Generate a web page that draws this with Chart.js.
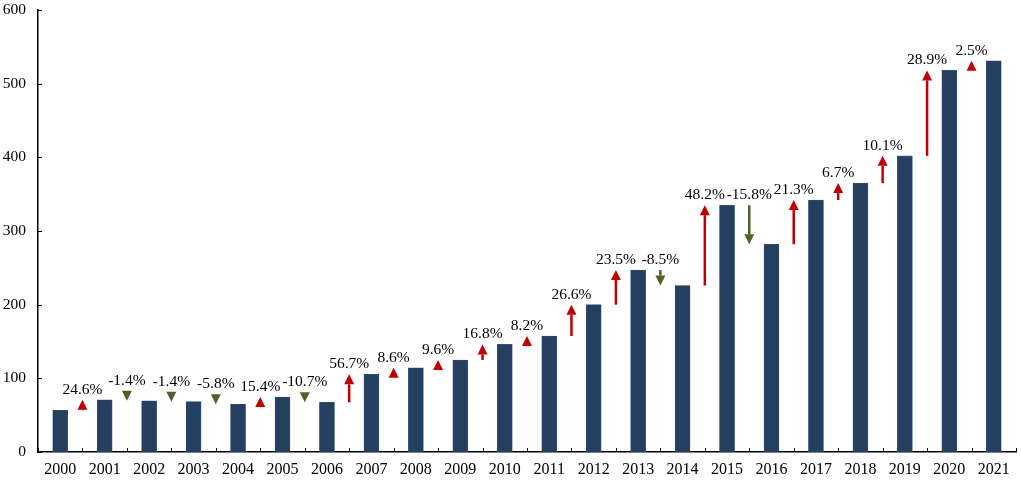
<!DOCTYPE html>
<html>
<head>
<meta charset="utf-8">
<script src="https://cdn.jsdelivr.net/npm/chart.js@4"></script>
<style>
  html, body { margin: 0; padding: 0; background: #fff; }
  #wrap { width: 1021px; height: 480px; }
</style>
</head>
<body>
<div id="wrap"><canvas id="chart"></canvas></div>
<script>
const years = ["2000", "2001", "2002", "2003", "2004", "2005", "2006", "2007", "2008", "2009", "2010",
  "2011", "2012", "2013", "2014", "2015", "2016", "2017", "2018", "2019", "2020", "2021"];
const values = [56.6, 70.8, 69.6, 68.3, 64.7, 74.7, 67.5, 105.5, 114.4, 124.9, 146,
  157.5, 200, 247, 226, 335, 282, 342, 365, 402, 518, 531];
// year-on-year change, one per gap between bars
const changes = ["24.6%", "-1.4%", "-1.4%", "-5.8%", "15.4%", "-10.7%", "56.7%", "8.6%", "9.6%", "16.8%",
  "8.2%", "26.6%", "23.5%", "-8.5%", "48.2%", "-15.8%", "21.3%", "6.7%", "10.1%", "28.9%", "2.5%"];
const yTicks = [0, 100, 200, 300, 400, 500, 600];

const FONT = "'Liberation Serif', 'Times New Roman', serif";
const UP = "#C00000";
const DOWN = "#4F6228";

// arrows between bars + percentage labels
const arrowPlugin = {
  id: "arrows",
  afterDatasetsDraw(chart) {
    const ctx = chart.ctx;
    const x = chart.scales.x;
    const y = chart.scales.y;
    const headLen = 10;
    const headHalf = 5;
    ctx.save();
    for (let i = 1; i < values.length; i++) {
      const cx = (x.getPixelForValue(i - 1) + x.getPixelForValue(i)) / 2;
      const y0 = y.getPixelForValue(values[i - 1]);
      const y1 = y.getPixelForValue(values[i]);
      const up = values[i] >= values[i - 1];
      const color = up ? UP : DOWN;
      ctx.fillStyle = color;
      ctx.strokeStyle = color;
      ctx.lineWidth = 2.5;
      let top;
      if (up) {
        const base = y1 + headLen;
        if (y0 > base) {
          ctx.beginPath();
          ctx.moveTo(cx, y0);
          ctx.lineTo(cx, base);
          ctx.stroke();
        }
        ctx.beginPath();
        ctx.moveTo(cx, y1);
        ctx.lineTo(cx - headHalf, base);
        ctx.lineTo(cx + headHalf, base);
        ctx.closePath();
        ctx.fill();
        top = y1;
      } else {
        const base = y1 - headLen;
        if (y0 < base) {
          ctx.beginPath();
          ctx.moveTo(cx, y0);
          ctx.lineTo(cx, base);
          ctx.stroke();
        }
        ctx.beginPath();
        ctx.moveTo(cx, y1);
        ctx.lineTo(cx - headHalf, base);
        ctx.lineTo(cx + headHalf, base);
        ctx.closePath();
        ctx.fill();
        top = Math.min(y0, base);
      }
      ctx.fillStyle = "#000";
      ctx.font = "15.5px " + FONT;
      ctx.textAlign = "center";
      ctx.textBaseline = "alphabetic";
      ctx.fillText(changes[i - 1], cx, top - 6);
    }
    ctx.restore();
  },
  afterDraw(chart) {
    // small inward tick marks on both axes
    const ctx = chart.ctx;
    const x = chart.scales.x;
    const y = chart.scales.y;
    const area = chart.chartArea;
    ctx.save();
    ctx.strokeStyle = "#000";
    ctx.lineWidth = 1;
    yTicks.forEach((v) => {
      const py = Math.round(y.getPixelForValue(v)) + 0.5;
      ctx.beginPath();
      ctx.moveTo(area.left, py);
      ctx.lineTo(area.left + 4, py);
      ctx.stroke();
    });
    for (let i = 0; i <= years.length; i++) {
      const px = Math.round(i === years.length
        ? area.right
        : (i === 0 ? area.left : (x.getPixelForValue(i - 1) + x.getPixelForValue(i)) / 2)) + 0.5;
      ctx.beginPath();
      ctx.moveTo(px, area.bottom);
      ctx.lineTo(px, area.bottom - 4);
      ctx.stroke();
    }
    ctx.restore();
  },
};

new Chart(document.getElementById("chart"), {
  type: "bar",
  data: {
    labels: years,
    datasets: [
      {
        data: values,
        backgroundColor: "#243F60",
        borderColor: "#3B5679",
        borderWidth: 0.6,
        barThickness: 15,
      },
    ],
  },
  options: {
    responsive: true,
    maintainAspectRatio: false,
    animation: false,
    layout: { padding: { top: 10, right: 5, left: 0, bottom: 0 } },
    plugins: {
      legend: { display: false },
      tooltip: { enabled: false },
    },
    scales: {
      x: {
        offset: true,
        grid: { display: false, drawTicks: false },
        border: { display: true, color: "#000", width: 1.5 },
        ticks: { color: "#000", font: { family: FONT, size: 16 }, padding: 8, maxRotation: 0, autoSkip: false },
        afterFit(scale) { scale.height = 28; },
      },
      y: {
        min: 0,
        max: 600,
        grid: { display: false, drawTicks: false },
        border: { display: true, color: "#000", width: 1.5 },
        ticks: { stepSize: 100, color: "#000", font: { family: FONT, size: 15.5 }, padding: 12 },
        afterFit(scale) {
          scale.width = 38;
          scale.paddingTop = 0;
          scale.paddingBottom = 0;
        },
      },
    },
  },
  plugins: [arrowPlugin],
});
</script>
</body>
</html>
